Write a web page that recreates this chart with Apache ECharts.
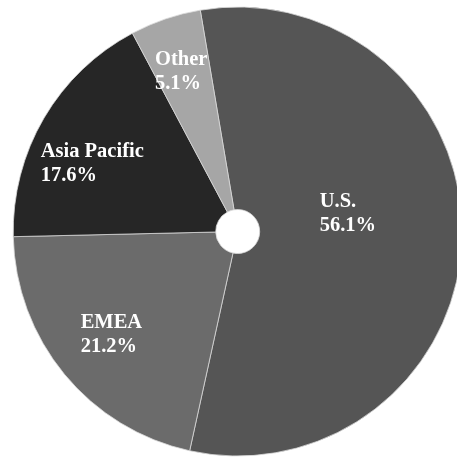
<!DOCTYPE html>
<html>
<head>
<meta charset="utf-8">
<style>
  html, body { margin: 0; padding: 0; background: #ffffff; }
  #chart { width: 457px; height: 459px; }
</style>
<script src="https://cdn.jsdelivr.net/npm/echarts@6/dist/echarts.min.js"></script>
</head>
<body>
<div id="chart"></div>
<script>
// Revenue share by region (%)
const regions = ['U.S.', 'EMEA', 'Asia Pacific', 'Other'];
const shares = [56.1, 21.2, 17.6, 5.1];
const sliceColors = ['#555555', '#6b6b6b', '#262626', '#a6a6a6'];
// small nudges so each two-line label sits comfortably in its slice
const labelNudges = [[-56, -22], [2, -3], [-2, 16], [-3, -2]];

const center = [237.7, 231.5];
const outerR = 224.5;
const innerR = 22;
const startAngle = 99.6;

const chart = echarts.init(document.getElementById('chart'), null, { renderer: 'canvas' });

const sliceData = regions.map((name, i) => ({
  name: name,
  value: shares[i],
  itemStyle: { color: sliceColors[i] }
}));

const labelData = regions.map((name, i) => ({
  name: name,
  value: shares[i],
  label: { offset: labelNudges[i] }
}));

chart.setOption({
  animation: false,
  backgroundColor: '#ffffff',
  series: [
    {
      type: 'pie',
      center: center,
      radius: [innerR, outerR],
      startAngle: startAngle,
      clockwise: true,
      avoidLabelOverlap: false,
      silent: true,
      label: { show: false },
      labelLine: { show: false },
      itemStyle: { borderColor: '#d8d8d8', borderWidth: 0.8 },
      data: sliceData
    },
    {
      // transparent ring that carries the text labels further out
      type: 'pie',
      center: center,
      radius: [102, outerR],
      startAngle: startAngle,
      clockwise: true,
      avoidLabelOverlap: false,
      silent: true,
      itemStyle: { color: 'rgba(0,0,0,0)' },
      labelLine: { show: false },
      label: {
        show: true,
        position: 'inside',
        formatter: p => '{t|' + p.name + '}\n{t|' + p.value.toFixed(1) + '%}',
        rich: {
          t: {
            align: 'left',
            color: '#ffffff',
            fontFamily: '"Liberation Serif", "Times New Roman", serif',
            fontWeight: 'bold',
            fontSize: 20.5,
            lineHeight: 24
          }
        }
      },
      data: labelData
    }
  ]
});
</script>
</body>
</html>
